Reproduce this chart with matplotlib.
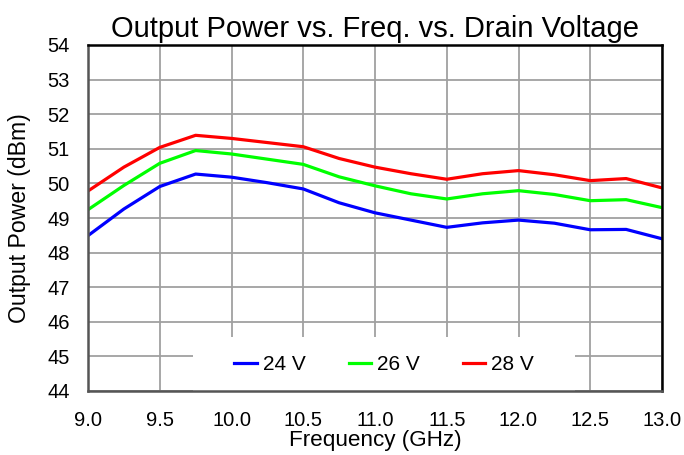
import matplotlib
matplotlib.use("Agg")
import matplotlib.pyplot as plt
from matplotlib.patches import Rectangle

plt.rcParams['font.family'] = ['Liberation Sans', 'DejaVu Sans']

freq = [9.0, 9.25, 9.5, 9.75, 10.0, 10.25, 10.5, 10.75, 11.0, 11.25, 11.5,
        11.75, 12.0, 12.25, 12.5, 12.75, 13.0]
p24 = [48.49, 49.26, 49.91, 50.27, 50.18, 50.02, 49.84, 49.44, 49.15, 48.94,
       48.73, 48.86, 48.94, 48.85, 48.66, 48.67, 48.40]
p26 = [49.24, 49.94, 50.58, 50.95, 50.85, 50.70, 50.55, 50.19, 49.93, 49.70,
       49.55, 49.70, 49.79, 49.68, 49.50, 49.53, 49.30]
p28 = [49.78, 50.47, 51.04, 51.39, 51.30, 51.18, 51.06, 50.72, 50.47, 50.28,
       50.12, 50.28, 50.37, 50.25, 50.08, 50.14, 49.87]
labels = ['24 V', '26 V', '28 V']
colors = ['#0000FF', '#00FF00', '#FF0000']
xticks = [9.0, 9.5, 10.0, 10.5, 11.0, 11.5, 12.0, 12.5, 13.0]
yticks = list(range(44, 55))

W, H = 684, 455
fig = plt.figure(figsize=(W / 100, H / 100), dpi=100)
ax = fig.add_axes([88 / W, 1 - 391 / H, (662 - 88) / W, (391 - 45) / H])

for y, lab, c in zip([p24, p26, p28], labels, colors):
    ax.plot(freq, y, color=c, lw=2.3, label=lab, zorder=3)

ax.set_xlim(9.0, 13.0)
ax.set_ylim(44, 54)
ax.set_xticks(xticks)
ax.set_xticklabels([f"{v:.1f}" for v in xticks])
ax.set_yticks(yticks)
ax.grid(True, color='#A0A0A0', lw=1.3, zorder=0)
ax.tick_params(axis='both', length=0, labelsize=14.5)
ax.tick_params(axis='x', pad=14.5)
ax.tick_params(axis='y', pad=13)
for s in ['top', 'right']:
    ax.spines[s].set_color('black')
    ax.spines[s].set_linewidth(1.8)
for s in ['left', 'bottom']:
    ax.spines[s].set_color('#555555')
    ax.spines[s].set_linewidth(1.8)
for s in ax.spines.values():
    s.set_zorder(6)

ax.set_title('Output Power vs. Freq. vs. Drain Voltage', fontsize=21, pad=6)
ax.set_xlabel('Frequency (GHz)', fontsize=16.2, labelpad=0)
ax.set_ylabel('Output Power (dBm)', fontsize=16.6, labelpad=12)

# white legend background covering the gridlines
ax.add_patch(Rectangle((0.183, 0.0), 0.665, 0.156, transform=ax.transAxes,
                       facecolor='white', edgecolor='none', zorder=2))
leg = ax.legend(loc='center', ncol=3, fontsize=15, frameon=False,
                handlelength=1.06, handletextpad=0.3, columnspacing=2.07,
                bbox_to_anchor=(0.516, 0.076))
leg.set_zorder(5)

fig.savefig('out.png', dpi=100, facecolor='white')
